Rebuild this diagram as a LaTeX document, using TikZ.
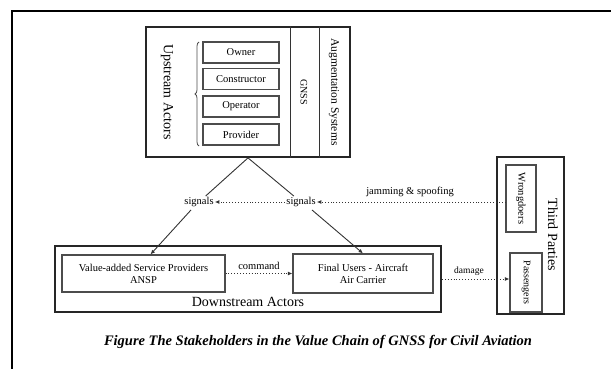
\documentclass[tikz,border=0pt]{standalone}
\usepackage{fontspec}
\setmainfont{Liberation Serif}
\usetikzlibrary{arrows.meta,decorations.pathreplacing,calc}
\begin{document}
\begin{tikzpicture}[x=1pt,y=-1pt,
  thickbox/.style={draw=black!85,line width=1.8pt,inner sep=0pt},
  innerbox/.style={draw=black!70,line width=1.1pt,inner sep=0pt,align=center,font=\fontsize{10.5}{12}\selectfont},
  lbl/.style={font=\fontsize{10.5}{12}\selectfont,inner sep=1pt},
  biglbl/.style={font=\fontsize{14}{16}\selectfont,inner sep=0pt},
  vlbl/.style={rotate=-90,inner sep=0pt},
  solidline/.style={line width=0.9pt,draw=black!80},
  arr/.style={solidline,-{Latex[length=4.5pt,width=4pt]}},
  dotarr/.style={arr,dotted,line width=1pt}
]
\useasboundingbox (0,0) rectangle (611,369);
% outer frame
\draw[line width=1.8pt] (12,369) -- (12,11) -- (611,11);

% upstream
\node[thickbox,minimum width=204pt,minimum height=130pt] (up) at (248,92) {};
\draw[solidline] ($(up.north west)+(145,0)$) -- ($(up.south west)+(145,0)$);
\draw[solidline] ($(up.north west)+(174,0)$) -- ($(up.south west)+(174,0)$);
\node[biglbl,vlbl] (upt) at (167,92) {Upstream Actors};
\node[vlbl,font=\fontsize{10}{12}\selectfont] (gnss) at (304,92) {GNSS};
\node[vlbl,font=\fontsize{11.5}{12}\selectfont] (aug) at (334,92) {Augmentation Systems};
\draw[line width=0.8pt,draw=black!70,decorate,decoration={brace,amplitude=4pt}] (199,146) -- (199,42);
\node[innerbox,minimum width=76pt,minimum height=21pt] (own) at (241,52.5) {Owner};
\node[innerbox,minimum width=76pt,minimum height=21pt] (con) at (241,79) {Constructor};
\node[innerbox,minimum width=76pt,minimum height=21pt] (ope) at (241,106.5) {Operator};
\node[innerbox,minimum width=76pt,minimum height=21pt] (pro) at (241,134.5) {Provider};

% signals
\node[lbl] (sigL) at (199,202) {signals};
\node[lbl] (sigR) at (301,202) {signals};
\draw[solidline] (up.south) -- (sigL);
\draw[solidline] (up.south) -- (sigR);

% downstream
\node[thickbox,minimum width=386pt,minimum height=66pt] (down) at (248,279) {};
\node[biglbl] (downt) at (248,302) {Downstream Actors};
\node[innerbox,minimum width=163pt,minimum height=37pt] (vasp) at (143.5,273.5) {Value-added Service Providers\\ANSP};
\node[innerbox,minimum width=140pt,minimum height=39pt] (fu) at (363,273.5) {Final Users - Aircraft\\Air Carrier};
\draw[arr] ($(sigL.south)+(-8,2)$) -- ($(vasp.north)+(7,0)$);
\draw[arr] ($(sigR.south)+(11,2)$) -- (fu.north);
\draw[dotarr] (vasp.east) -- (fu.west) node[midway,above=2pt,lbl] (cmd) {command};

% third parties
\node[thickbox,minimum width=67pt,minimum height=157pt] (tp) at (530.5,235.5) {};
\node[biglbl,vlbl] (tpt) at (553,235) {Third Parties};
\node[innerbox,minimum width=30pt,minimum height=67pt] (wd) at (521,198.5) {};
\node[vlbl,font=\fontsize{10.5}{12}\selectfont] (wdt) at (wd) {Wrongdoers};
\node[innerbox,minimum width=32pt,minimum height=59pt] (ps) at (526,282.5) {};
\node[vlbl,font=\fontsize{10}{12}\selectfont] (pst) at (ps) {Passengers};

\draw[dotarr] (wd.west |- sigR.east) -- (sigR.east);
\node[lbl] (jam) at (410,192) {jamming \& spoofing};
\draw[dotarr] (sigR.west) -- (sigL.east);
\draw[dotarr] (down.east) -- (ps.west |- down.east);
\node[lbl,font=\fontsize{9.5}{12}\selectfont] (dmg) at (469,271) {damage};

% caption
\node[font=\fontsize{14.5}{16}\selectfont\bfseries\itshape] (cap) at (318,342) {Figure The Stakeholders in the Value Chain of GNSS for Civil Aviation};
\end{tikzpicture}
\end{document}
